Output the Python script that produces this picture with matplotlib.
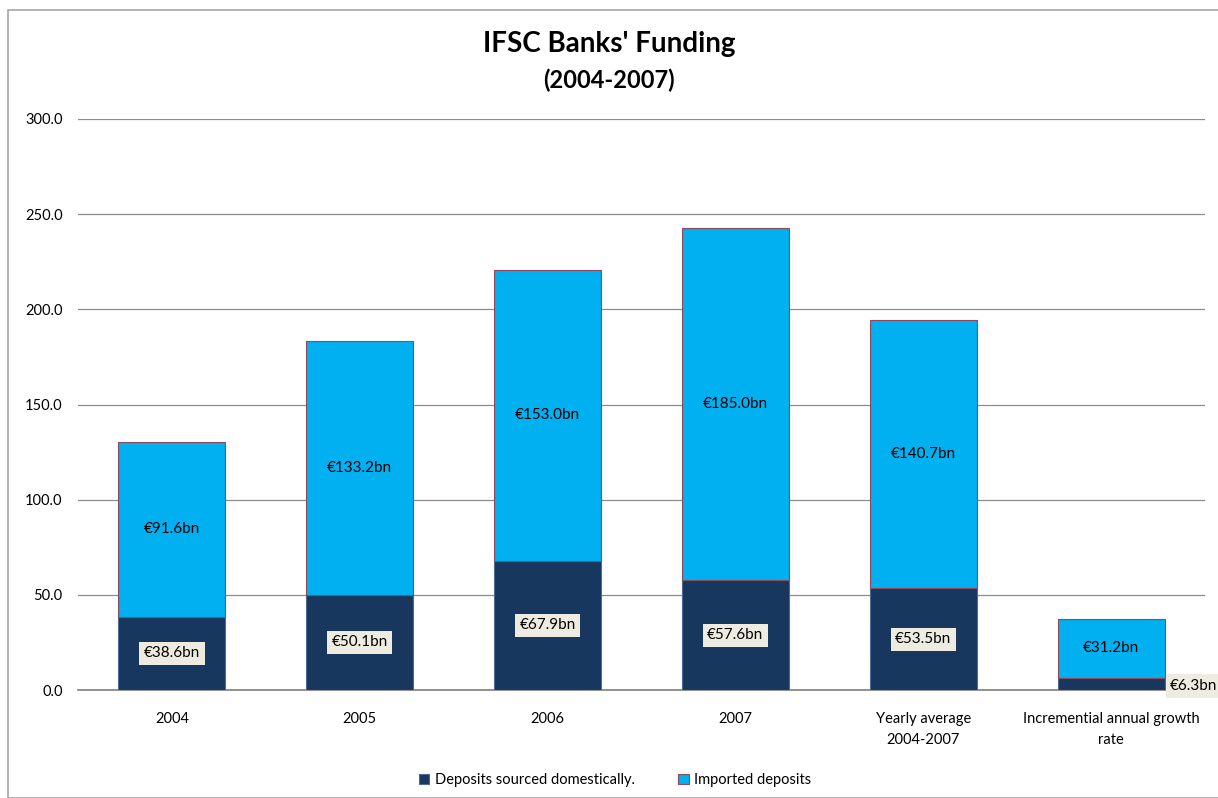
import matplotlib
matplotlib.use("Agg")

import numpy as np
import matplotlib.pyplot as plt
from matplotlib.patches import Rectangle

categories = ["2004", "2005", "2006", "2007",
              "Yearly average\n2004-2007", "Incremential annual growth\nrate"]
domestic = [38.6, 50.1, 67.9, 57.6, 53.5, 6.3]
imported = [91.6, 133.2, 153.0, 185.0, 140.7, 31.2]
y_ticks = [0, 50, 100, 150, 200, 250, 300]

DARK = "#17375E"
LIGHT = "#00B0F0"
LABEL_BG = "#EEECE1"

plt.rcParams["font.family"] = ["Lato", "DejaVu Sans"]

fig = plt.figure(figsize=(12.18, 7.98), dpi=100)

# outer chart frame
fig.patches.append(Rectangle((8 / 1218, 0.0), 1.0, 1 - 10 / 798,
                             transform=fig.transFigure, fill=False,
                             edgecolor="#A6A6A6", linewidth=1.2))

ax = fig.add_axes([0.064, 0.1353, 0.9253, 0.7156])

x = np.arange(len(categories))
width = 0.57

ax.bar(x, domestic, width, color=DARK, edgecolor="#4F6A8F", linewidth=0.8,
       label="Deposits sourced domestically.", zorder=3)
ax.bar(x, imported, width, bottom=domestic, color=LIGHT, edgecolor="#8C4A5A",
       linewidth=0.8, label="Imported deposits", zorder=3)

for i, (d, m) in enumerate(zip(domestic, imported)):
    ax.text(i, d + m / 2, f"€{m:.1f}bn", ha="center", va="center",
            fontsize=11, color="black", zorder=4)
    box = dict(boxstyle="square,pad=0.3", facecolor=LABEL_BG, edgecolor="none")
    if d < 15:
        ax.text(i + width / 2 + 0.03, d / 2 - 1, f"€{d:.1f}bn", ha="left",
                va="center", fontsize=11, color="black", bbox=box, zorder=4)
    else:
        ax.text(i, d / 2, f"€{d:.1f}bn", ha="center", va="center",
                fontsize=11, color="black", bbox=box, zorder=4)

ax.set_xlim(-0.5, len(categories) - 0.5)
ax.set_ylim(0, 300)
ax.set_yticks(y_ticks)
ax.set_yticklabels([f"{v:.1f}" for v in y_ticks])
ax.set_xticks(x)
ax.set_xticklabels(categories, fontsize=10.5, linespacing=1.6)
ax.tick_params(axis="y", length=0, pad=11, labelsize=10.5)
ax.tick_params(axis="x", length=0, pad=16)

ax.grid(axis="y", color="#8C8C8C", linewidth=0.9, zorder=0)
for side in ["top", "right", "left"]:
    ax.spines[side].set_visible(False)
ax.spines["bottom"].set_color("#7F7F7F")
ax.spines["bottom"].set_linewidth(1.2)

fig.text(0.5, 0.945, "IFSC Banks' Funding", ha="center", va="center",
         fontsize=20, fontweight="bold")
fig.text(0.5, 0.899, "(2004-2007)", ha="center", va="center",
         fontsize=17, fontweight="bold")

fig.legend(loc="center", bbox_to_anchor=(0.505, 0.022), ncol=2, frameon=False,
           fontsize=10.5, handlelength=0.7, handleheight=0.7, handletextpad=0.4,
           columnspacing=3.0)

fig.savefig("out.png", dpi=100)
